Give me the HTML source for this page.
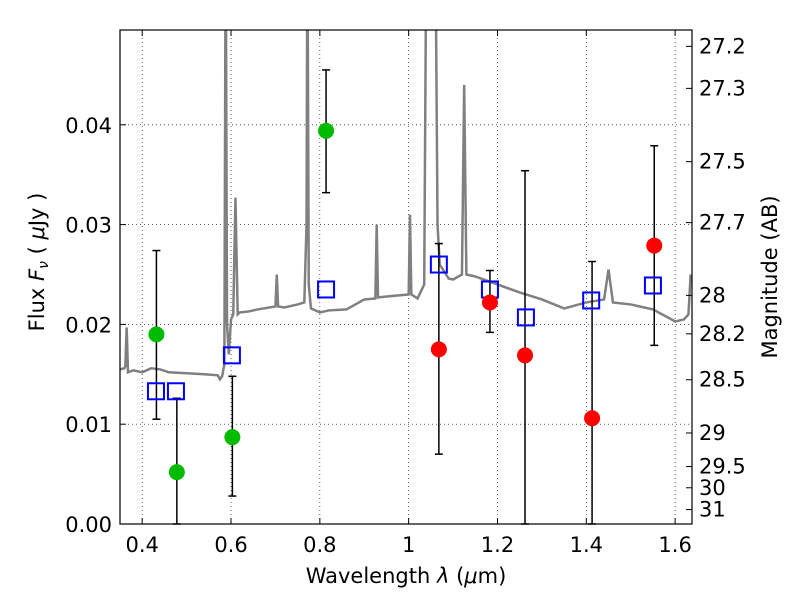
<!DOCTYPE html>
<html><head><meta charset="utf-8"><style>
body{margin:0;background:#fff;}
svg text{font-family:"DejaVu Sans","Liberation Sans",sans-serif;fill:#000;}
</style></head><body>
<svg id="chart" width="800" height="600" xmlns="http://www.w3.org/2000/svg">
<rect width="800" height="600" fill="#fff"/>
<g id="grid"></g>
<g id="spec"></g>
<g id="errs"></g>
<g id="marks"></g>
<g id="axes"></g>
</svg>
<script>
const xTicks=[0.4,0.6,0.8,1,1.2,1.4,1.6];
const xTickLabels=["0.4","0.6","0.8","1","1.2","1.4","1.6"];
const yTicks=[0,0.01,0.02,0.03,0.04];
const yTickLabels=["0.00","0.01","0.02","0.03","0.04"];
const magTicks=[27.2,27.3,27.5,27.7,28,28.2,28.5,29,29.5,30,31];
const greenWave=[0.432,0.478,0.603,0.814];
const greenFlux=[0.019,0.0052,0.0087,0.0394];
const greenLo=[0.0105,0,0.0028,0.0332];
const greenHi=[0.0274,0.0126,0.0148,0.0455];
const redWave=[1.068,1.183,1.262,1.413,1.553];
const redFlux=[0.0175,0.0222,0.0169,0.0106,0.0279];
const redLo=[0.007,0.0192,0,0,0.0179];
const redHi=[0.0281,0.0254,0.0354,0.0263,0.0379];
const blueWave=[0.431,0.476,0.602,0.814,1.068,1.183,1.264,1.411,1.55];
const blueFlux=[0.0133,0.0133,0.0169,0.0235,0.026,0.0235,0.0207,0.0224,0.0239];
const specWave=[0.35,0.36,0.362,0.365,0.368,0.38,0.40,0.42,0.44,0.46,0.50,0.54,0.57,0.575,0.58,0.585,0.588,0.591,0.595,0.60,0.605,0.61,0.615,0.62,0.64,0.66,0.70,0.703,0.706,0.72,0.75,0.765,0.77,0.772,0.775,0.78,0.80,0.82,0.86,0.90,0.925,0.928,0.931,0.95,1.0,1.003,1.006,1.02,1.035,1.04,1.05,1.06,1.065,1.07,1.09,1.10,1.12,1.125,1.13,1.15,1.2,1.25,1.3,1.35,1.4,1.44,1.45,1.46,1.5,1.55,1.6,1.62,1.63,1.635];
const specFlux=[0.0155,0.0156,0.0158,0.0197,0.0152,0.0154,0.0152,0.0156,0.0155,0.0152,0.0151,0.0150,0.0149,0.0145,0.0148,0.016,0.06,0.02,0.0170,0.0205,0.021,0.0327,0.021,0.0212,0.0213,0.0215,0.0218,0.025,0.0218,0.0217,0.022,0.0222,0.03,0.06,0.024,0.0216,0.0212,0.0214,0.0215,0.0225,0.0226,0.030,0.0227,0.0228,0.0230,0.031,0.023,0.0226,0.024,0.06,0.06,0.06,0.03,0.026,0.0246,0.0245,0.025,0.044,0.025,0.0248,0.024,0.0232,0.0225,0.0216,0.0222,0.0225,0.0255,0.0222,0.022,0.0215,0.0203,0.0205,0.021,0.025];
const X0=0.35,X1=1.638,Y0=0,Y1=0.0495,L=120,R=692,T=30,B=524;
const sx=v=>L+(v-X0)/(X1-X0)*(R-L);
const sy=v=>B-(v-Y0)/(Y1-Y0)*(B-T);
const NS="http://www.w3.org/2000/svg";
function mk(tag,attrs,parent){const e=document.createElementNS(NS,tag);for(const k in attrs)e.setAttribute(k,attrs[k]);parent.appendChild(e);return e;}
const grid=document.getElementById('grid'),axes=document.getElementById('axes');
xTicks.forEach((t,i)=>{const x=sx(t);
 const g=mk('line',{x1:x,x2:x,y1:T,y2:B,stroke:'#000','stroke-width':0.6,'stroke-dasharray':'1,3'},grid);
 
 mk('line',{x1:x,x2:x,y1:B,y2:B-6,stroke:'#000'},axes);mk('line',{x1:x,x2:x,y1:T,y2:T+6,stroke:'#000'},axes);
 const tx=mk('text',{x:x,y:B+28,'font-size':21,'text-anchor':'middle'},axes);tx.textContent=xTickLabels[i];
 });
yTicks.forEach((t,i)=>{const y=sy(t);
 const g=mk('line',{x1:L,x2:R,y1:y,y2:y,stroke:'#000','stroke-width':0.6,'stroke-dasharray':'1,3'},grid);
 
 mk('line',{x1:L,x2:L+6,y1:y,y2:y,stroke:'#000'},axes);
 const tx=mk('text',{x:L-8,y:y+8,'font-size':21,'text-anchor':'end'},axes);tx.textContent=yTickLabels[i];
 });
magTicks.forEach(m=>{const f=Math.pow(10,(23.9-m)/2.5);const y=sy(f);
 mk('line',{x1:R,x2:R-6,y1:y,y2:y,stroke:'#000'},axes);
 const tx=mk('text',{x:R+7,y:y+7,'font-size':21},axes);tx.textContent=String(m);
 });
const spec=document.getElementById('spec');
mk('clipPath',{id:'clp'},spec);
mk('rect',{x:L,y:T,width:R-L,height:B-T},document.getElementById('clp'));
const sp=mk('polyline',{points:specWave.map((w,i)=>sx(w)+','+sy(specFlux[i])).join(' '),fill:'none',stroke:'#808080','stroke-width':2.5,'clip-path':'url(#clp)'},spec);

const errs=document.getElementById('errs'),marks=document.getElementById('marks');
function eb(w,lo,hi){const x=sx(w);const g=mk('g',{},errs);
 
 mk('line',{x1:x,x2:x,y1:sy(lo),y2:sy(hi),stroke:'#000','stroke-width':1.5},g);
 mk('line',{x1:x-4,x2:x+4,y1:sy(lo),y2:sy(lo),stroke:'#000','stroke-width':1.5},g);
 mk('line',{x1:x-4,x2:x+4,y1:sy(hi),y2:sy(hi),stroke:'#000','stroke-width':1.5},g);}
greenWave.forEach((w,i)=>eb(w,greenLo[i],greenHi[i]));
redWave.forEach((w,i)=>eb(w,redLo[i],redHi[i]));
blueWave.forEach((w,i)=>{const r=mk('rect',{x:sx(w)-8,y:sy(blueFlux[i])-8,width:16,height:16,fill:'none',stroke:'#0000ff','stroke-width':2},marks);
 });
greenWave.forEach((w,i)=>{const c=mk('circle',{cx:sx(w),cy:sy(greenFlux[i]),r:8,fill:'#00bb00'},marks);
 });
redWave.forEach((w,i)=>{const c=mk('circle',{cx:sx(w),cy:sy(redFlux[i]),r:8,fill:'#ff0000'},marks);
 });
const fr=mk('rect',{x:L,y:T,width:R-L,height:B-T,fill:'none',stroke:'#000','stroke-width':1.2},axes);

const xl=mk('text',{x:406,y:583,'font-size':21,'text-anchor':'middle'},axes);
xl.innerHTML='Wavelength  <tspan font-style="italic">λ</tspan> (<tspan font-style="italic">μ</tspan>m)';

const yl=mk('text',{x:0,y:0,'font-size':21,'text-anchor':'middle',transform:'translate(44,262) rotate(-90)'},axes);
yl.innerHTML='Flux  <tspan font-style="italic">F</tspan><tspan font-style="italic" font-size="14" dy="4">ν</tspan><tspan dy="-4">  ( </tspan><tspan font-style="italic">μ</tspan>Jy )';

const yr=mk('text',{x:0,y:0,'font-size':21,'text-anchor':'middle',transform:'translate(777,277) rotate(-90)'},axes);
yr.textContent='Magnitude (AB)';

</script>
</body></html>
